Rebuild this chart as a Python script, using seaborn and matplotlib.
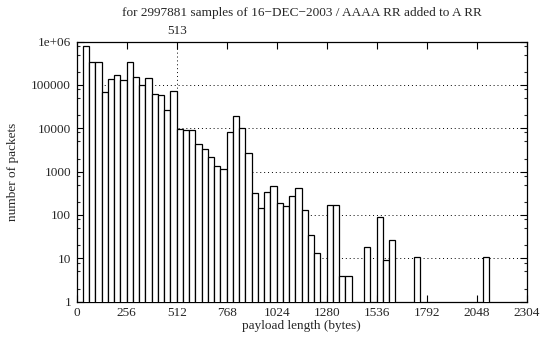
import numpy as np
import pandas as pd
import matplotlib
matplotlib.use("Agg")
import matplotlib.pyplot as plt
import matplotlib.ticker as mticker
import seaborn as sns

# payload length bins (lower edge, 32 byte wide) and packet counts
bin_width = 32
bin_start = list(range(32, 2112, bin_width))
packets = [
    783000, 330000, 330000, 69600, 139000, 171000, 129000, 341000,
    154000, 101000, 141000, 61500, 59400, 26800, 72100, 9620,
    9120, 9120, 4270, 3270, 2220, 1330, 1150, 8060,
    19200, 9960, 2740, 318, 141, 341, 469, 190,
    165, 271, 429, 127, 35, 13, 0, 168,
    170, 4, 4, 0, 0, 18, 0, 88,
    9, 26, 0, 0, 0, 11, 0, 0,
    0, 0, 0, 0, 0, 0, 0, 0,
    11,
]
x_ticks = [0, 256, 512, 768, 1024, 1280, 1536, 1792, 2048, 2304]
y_ticks = [1, 10, 100, 1000, 10000, 100000, 1000000]
y_labels = ["1", "10", "100", "1000", "10000", "100000", "1e+06"]
marker_x = 513

df = pd.DataFrame({"payload": np.array(bin_start) + bin_width / 2, "packets": packets})

sns.set_style("ticks")
plt.rcParams["font.family"] = ["Liberation Serif", "DejaVu Serif"]
plt.rcParams["font.size"] = 9.5

fig = plt.figure(figsize=(5.42, 3.40), dpi=100)
ax = fig.add_axes([76.7 / 542, 38.3 / 340, 450 / 542, 260.2 / 340])

sns.histplot(data=df, x="payload", weights="packets", binwidth=bin_width,
             binrange=(0, 2304), ax=ax, color="white", edgecolor="black",
             linewidth=0.9, alpha=1, zorder=3)

ax.set_yscale("log")
ax.set_ylim(1, 1e6)
ax.set_xlim(0, 2304)

ax.set_xticks(x_ticks)
ax.set_xticklabels([str(t) for t in x_ticks])
ax.yaxis.set_major_locator(mticker.FixedLocator(y_ticks))
ax.yaxis.set_major_formatter(mticker.FixedFormatter(y_labels))
minor = [m * 10 ** e for e in range(6) for m in (2, 5, 8)]
ax.yaxis.set_minor_locator(mticker.FixedLocator(minor))
ax.yaxis.set_minor_formatter(mticker.NullFormatter())

ax.tick_params(axis="both", which="major", direction="in", length=5, width=0.8,
               top=True, right=True, labelsize=9.5, pad=4, color="black")
ax.tick_params(axis="y", which="minor", direction="in", length=2.5, width=0.8,
               left=True, right=True)

for s in ax.spines.values():
    s.set_linewidth(0.9)
    s.set_color("black")

# dotted grid behind the boxes
for y in y_ticks[1:-1]:
    ax.axhline(y, color="black", linestyle=(0, (1, 3)), linewidth=0.7, zorder=1)
ax.axvline(marker_x, color="black", linestyle=(0, (1, 3)), linewidth=0.7, zorder=1)

top = ax.secondary_xaxis("top")
top.set_xticks([marker_x])
top.set_xticklabels([str(marker_x)])
top.tick_params(length=0, pad=3, labelsize=9.5)
top.spines["top"].set_visible(False)

ax.set_xlabel("payload length (bytes)", fontsize=9.5)
ax.set_ylabel("number of packets", fontsize=9.5)
ax.xaxis.set_label_coords(0.5, -0.094)
ax.xaxis.label.set_va("center")
ax.yaxis.set_label_coords(-0.141, 0.5)
ax.yaxis.label.set_va("center")

fig.text(301.7 / 542, 1 - 13 / 340, "for 2997881 samples of 16\u2212DEC\u22122003 / AAAA RR added to A RR",
         ha="center", va="center", fontsize=9.5)

fig.savefig("out.png", dpi=100)
